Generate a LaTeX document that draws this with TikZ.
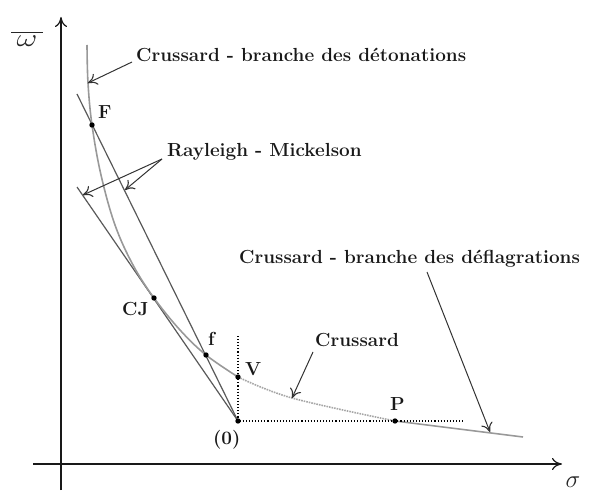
\documentclass[tikz,border=0pt]{standalone}
\usetikzlibrary{arrows.meta}
\begin{document}
\begin{tikzpicture}[x=1bp,y=-1bp,
  lbl/.style={font=\fontsize{19}{22}\selectfont\bfseries, inner sep=0pt, anchor=base west, text=black!90},
  mathlbl/.style={font=\fontsize{27}{30}\selectfont, inner sep=0pt, text=black!85},
  axis/.style={line width=1.2bp, draw=black!90, -{Computer Modern Rightarrow[length=10bp,width=12bp,line width=1.2bp]}},
  ray/.style={line width=1.2bp, draw=black!65},
  cru/.style={line width=1.6bp, draw=black!40},
  crudot/.style={line width=1.6bp, draw=black!35, densely dotted},
  ptr/.style={line width=1bp, draw=black!80, -{Computer Modern Rightarrow[length=9bp,width=12bp,line width=1.1bp]}},
  guide/.style={line width=1.1bp, dotted, draw=black}
]
\useasboundingbox (0,0) rectangle (591,493);

% axes
\coordinate (xs) at (33,464);
\coordinate (xe) at (562,464);
\coordinate (ys) at (61,490);
\coordinate (ye) at (61,17);
\draw[axis] (xs) -- (xe);
\draw[axis] (ys) -- (ye);
\node[mathlbl] (omega) at (27,39) {\scalebox{1.3}[1]{$\overline{\rule{0pt}{1.15ex}\,\omega\,}$}};
\node[mathlbl] (sigma) at (573,482) {$\sigma$};

% key points
\coordinate (F) at (92,125);
\coordinate (CJ) at (154,298);
\coordinate (f) at (206,355);
\coordinate (V) at (238,377);
\coordinate (O) at (238,421);
\coordinate (P) at (395,421);
\coordinate (Dmid) at (292,398);
\coordinate (Cend) at (523,437);
\coordinate (vtop) at (238,336);
\coordinate (hend) at (465,421);

% Rayleigh lines
\coordinate (R1s) at (77,94);
\coordinate (R2s) at (77,187);
\draw[ray] (R1s) -- (O);
\draw[ray] (R2s) -- (O);

% Crussard curve
\draw[cru] plot[smooth, tension=0.6] coordinates {(87,45) (88,83) (F) (101,175) (115,225) (133,265) (CJ) (180,330) (f) (V)};
\draw[crudot] plot[smooth, tension=0.6] coordinates {(V) (Dmid) (P)};
\draw[cru] (P) -- (Cend);

% guides
\draw[guide] (vtop) -- (O) -- (hend);

% dots
\foreach \p in {F,CJ,f,V,O,P} \fill (\p) circle (2.7bp);

% point labels
\node[lbl] (lF) at (98,119) {F};
\node[lbl] (lCJ) at (122,315) {CJ};
\node[lbl] (lf) at (208,345) {f};
\node[lbl] (lV) at (245,375) {V};
\node[lbl] (lO) at (213,444) {(0)};
\node[lbl] (lP) at (390,410) {P};

% annotations
\node[lbl] (det) at (136,61.5) {Crussard - branche des détonations};
\coordinate (detA) at (132,62);
\coordinate (detT) at (88,83);
\draw[ptr] (detA) -- (detT);

\node[lbl] (rm) at (167,157) {Rayleigh - Mickelson};
\coordinate (rmA) at (162,159);
\coordinate (rmT1) at (83,195);
\coordinate (rmT2) at (125,190);
\draw[ptr] (rmA) -- (rmT1);
\draw[ptr] (rmA) -- (rmT2);

\node[lbl] (def) at (239,263) {Crussard - branche des déflagrations};
\coordinate (defA) at (427,272);
\coordinate (defT) at (490,432);
\draw[ptr] (defA) -- (defT);

\node[lbl] (cr) at (315,346) {Crussard};
\coordinate (crA) at (313,352);
\draw[ptr] (crA) -- (Dmid);
\end{tikzpicture}
\end{document}
